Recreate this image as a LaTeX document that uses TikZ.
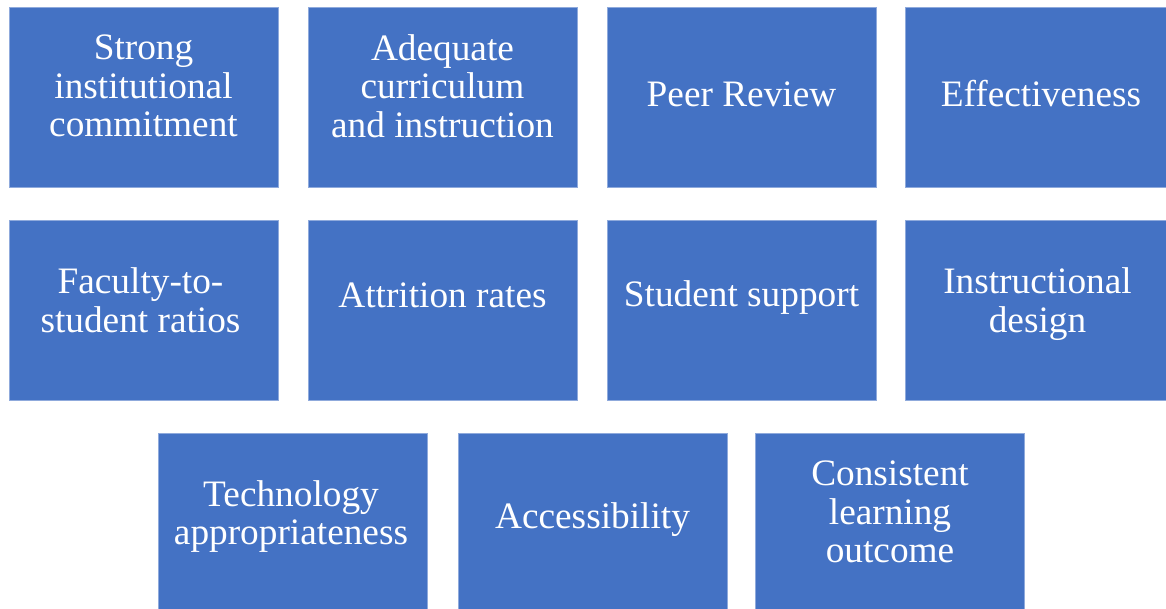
\documentclass[tikz,border=0pt]{standalone}
\usepackage{fontspec}
\setmainfont{Liberation Serif}
\definecolor{boxblue}{HTML}{4472C4}
\definecolor{boxedge}{HTML}{8FAADC}
\begin{document}
\begin{tikzpicture}[x=1pt,y=-1pt,
  cell/.style={fill=boxblue,draw=boxedge,line width=0.8pt,minimum width=269pt,minimum height=180pt,inner sep=0pt},
  txt/.style={inner sep=0pt,align=center,text=white,font=\fontsize{37.3}{38.6}\selectfont},
  one/.style={txt,yshift=3pt},
  two/.style={txt,yshift=6.5pt},
  three/.style={txt,yshift=11pt}]
\clip (0,0) rectangle (1166,609);
\fill[white] (0,0) rectangle (1166,609);
\node[cell] (a1) at (143.5,97) {};
\node[cell] (a2) at (442.5,97) {};
\node[cell] (a3) at (741.5,97) {};
\node[cell] (a4) at (1039.5,97) {};
\node[cell] (b1) at (143.5,310.5) {};
\node[cell] (b2) at (442.5,310.5) {};
\node[cell] (b3) at (741.5,310.5) {};
\node[cell] (b4) at (1039.5,310.5) {};
\node[cell] (c1) at (293,523) {};
\node[cell] (c2) at (592.5,523) {};
\node[cell] (c3) at (890,523) {};
\node[three] (a1t) at (a1.center) {Strong\\institutional\\commitment};
\node[three] (a2t) at (a2.center) {Adequate\\curriculum\\and instruction};
\node[one] (a3t) at (a3.center) {Peer Review};
\node[one] (a4t) at ([xshift=1.5pt]a4.center) {Effectiveness};
\node[two] (b1t) at ([xshift=-3pt,yshift=4pt]b1.center) {Faculty-to-\\student ratios};
\node[one] (b2t) at ([yshift=12pt]b2.center) {Attrition rates};
\node[one] (b3t) at ([yshift=10pt]b3.center) {Student support};
\node[two] (b4t) at ([xshift=-2pt]b4.center) {Instructional\\design};
\node[two] (c1t) at ([xshift=-2pt]c1.center) {Technology\\appropriateness};
\node[one] (c2t) at (c2.center) {Accessibility};
\node[three] (c3t) at (c3.center) {Consistent\\learning\\outcome};
\end{tikzpicture}
\end{document}
